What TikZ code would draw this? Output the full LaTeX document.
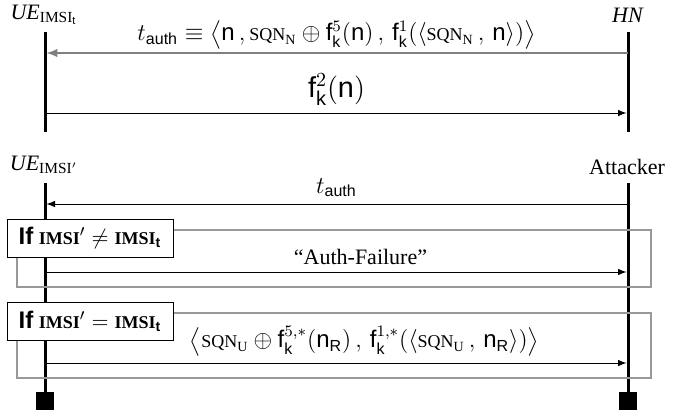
\documentclass[tikz,border=0pt]{standalone}
\usepackage{amssymb}
\usepackage{mathtools}
\usepackage{fontspec}
\setmainfont{Liberation Serif}
\setsansfont{Liberation Sans}
\usetikzlibrary{arrows,shapes,positioning,calc}
\newcommand{\sqnval}[1]{\mbox{\small SQN}_{\mbox{\scriptsize #1}}}
\newcommand{\fk}[1]{\mathsf{f}^{#1}_{\mathsf{k}}}
\newcommand{\imsi}{\mbox{\small\bfseries IMSI}}

\begin{document}
\begin{tikzpicture}
[x=.5pt,y=-.5pt,font=\fontsize{11}{13}\selectfont,
life/.style={black,line width=1.5pt},
msg/.style={black,>=latex,line width=.5pt,shorten >=.7pt},
gmsg/.style={black!50,>=latex,line width=.9pt,shorten >=.7pt},
frame/.style={black!40,line width=.9pt},
ifbox/.style={draw=black,thin,fill=white,minimum width=83pt,minimum height=19pt,inner sep=2pt},
endbox/.style={fill=black,minimum size=9pt,inner sep=0pt}]
\useasboundingbox (0,0) rectangle (684,414);
%%
\node (ue) at (44,15) {$\mathit{UE}_{\mathrm{IMSI}_{\mathsf{t}}}$};
\node (hn) at (628,15) {\textit{HN}};
\coordinate (ueTop) at (45,32);
\coordinate (ueBot) at (45,132);
\coordinate (hnTop) at (628,32);
\coordinate (hnBot) at (628,132);
\draw[life] (ueTop) -- (ueBot);
\draw[life] (hnTop) -- (hnBot);
%%
\coordinate (authUe) at (45,53);
\coordinate (authHn) at (628,53);
\draw[gmsg,->] (authHn) -- (authUe) node[midway,above,black,font=\large,inner sep=1.5pt]
{$t_{\mathsf{auth}} \equiv \big\langle \mathsf{n} \,, \sqnval{N} \oplus \fk{5}(\mathsf{n}) \,,\,
\fk{1}(\langle \sqnval{N} \,,\, \mathsf{n}\rangle)\big\rangle$};
\coordinate (resUe) at (45,113);
\coordinate (resHn) at (628,113);
\draw[msg,->] (resUe) -- (resHn) node[midway,above,font=\Large] {$\fk{2}(\mathsf{n})$};
%%
\node (uep) at (44,165) {$\mathit{UE}_{\mathrm{IMSI}'}$};
\node (att) at (627,167) {Attacker};
\node[endbox] (uepEnd) at (45,401) {};
\node[endbox] (attEnd) at (628,401) {};
\draw[life] (45,183) coordinate (uepTop) -- (uepEnd);
\draw[life] (628,183) coordinate (attTop) -- (attEnd);
%%
\coordinate (replayUe) at (45,204);
\coordinate (replayAtt) at (628,204);
\draw[msg,->] (replayAtt) -- (replayUe) node[midway,above,font=\large] {$t_{\mathsf{auth}}$};
%%
\draw[frame] (17,230) rectangle (651,287);
\node[ifbox] (neq) at (90,238) {\textsf{\textbf{\large If}} $\imsi'\neq\imsi_{\mbox{\scriptsize\sffamily\bfseries t}}$};
\coordinate (failUe) at (45,272);
\coordinate (failAtt) at (628,272);
\draw[msg,->] (failUe) -- (failAtt) node[midway,above,xshift=12pt] {``Auth-Failure''};
%%
\draw[frame] (17,313) rectangle (651,378);
\node[ifbox] (eq) at (90,321.5) {\textsf{\textbf{\large If}} $\imsi'=\imsi_{\mbox{\scriptsize\sffamily\bfseries t}}$};
\coordinate (syncUe) at (45,363);
\coordinate (syncAtt) at (628,363);
\draw[msg,->] (syncUe) -- (syncAtt) node[midway,above,xshift=14pt,font=\large]
{$\big\langle \sqnval{U} \oplus \fk{5,*}(\mathsf{n}_{\mathsf{R}}) \,,\,
\fk{1,*}(\langle \sqnval{U} \,,\, \mathsf{n}_{\mathsf{R}}\rangle)\big\rangle$};
\end{tikzpicture}
\end{document}
